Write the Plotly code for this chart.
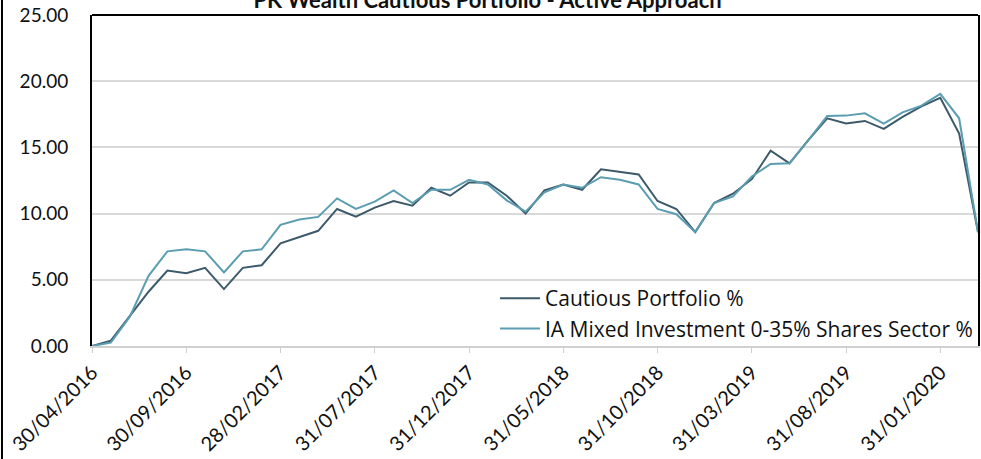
import plotly.graph_objects as go

dates = [
    "30/04/2016", "31/05/2016", "30/06/2016", "31/07/2016", "31/08/2016", "30/09/2016",
    "31/10/2016", "30/11/2016", "31/12/2016", "31/01/2017", "28/02/2017", "31/03/2017",
    "30/04/2017", "31/05/2017", "30/06/2017", "31/07/2017", "31/08/2017", "30/09/2017",
    "31/10/2017", "30/11/2017", "31/12/2017", "31/01/2018", "28/02/2018", "31/03/2018",
    "30/04/2018", "31/05/2018", "30/06/2018", "31/07/2018", "31/08/2018", "30/09/2018",
    "31/10/2018", "30/11/2018", "31/12/2018", "31/01/2019", "28/02/2019", "31/03/2019",
    "30/04/2019", "31/05/2019", "30/06/2019", "31/07/2019", "31/08/2019", "30/09/2019",
    "31/10/2019", "30/11/2019", "31/12/2019", "31/01/2020", "29/02/2020", "31/03/2020",
]

cautious = [
    0.00, 0.40, 2.25, 4.10, 5.70, 5.50, 5.90, 4.30, 5.90, 6.10, 7.75, 8.20,
    8.70, 10.35, 9.77, 10.45, 10.95, 10.60, 11.95, 11.35, 12.35, 12.35, 11.35, 10.00,
    11.75, 12.20, 11.80, 13.35, 13.15, 12.95, 10.95, 10.35, 8.60, 10.80, 11.50, 12.60,
    14.75, 13.80, 15.55, 17.20, 16.80, 17.00, 16.40, 17.30, 18.10, 18.75, 16.05, 8.60,
]

ia_sector = [
    0.00, 0.25, 2.20, 5.30, 7.15, 7.30, 7.15, 5.55, 7.15, 7.30, 9.15, 9.55,
    9.75, 11.15, 10.35, 10.90, 11.75, 10.80, 11.80, 11.80, 12.55, 12.20, 11.00, 10.15,
    11.60, 12.20, 11.95, 12.75, 12.55, 12.20, 10.35, 9.95, 8.60, 10.80, 11.30, 12.80,
    13.75, 13.80, 15.55, 17.37, 17.40, 17.57, 16.80, 17.65, 18.15, 19.05, 17.20, 8.60,
]

tick_labels = [dates[i] for i in range(0, len(dates), 5)]
y_ticks = [0, 5, 10, 15, 20, 25]

FONT = "Lato"

fig = go.Figure()
fig.add_trace(go.Scatter(
    x=dates, y=cautious, mode="lines", name="Cautious Portfolio %",
    line=dict(color="#3d5a6a", width=2),
))
fig.add_trace(go.Scatter(
    x=dates, y=ia_sector, mode="lines", name="IA Mixed Investment 0-35% Shares Sector %",
    line=dict(color="#5b9db1", width=2),
))

fig.update_layout(
    width=981, height=459,
    margin=dict(l=92, r=3, t=15, b=113, autoexpand=False),
    paper_bgcolor="white", plot_bgcolor="white",
    font=dict(family=FONT, color="#111111", size=18),
    title=dict(
        text="<b>PK Wealth Cautious Portfolio - Active Approach</b>",
        x=0.497, xanchor="center", y=1.0, yanchor="middle",
        font=dict(family=FONT, size=22, color="#111111"),
    ),
    showlegend=True,
    legend=dict(
        x=1.0, xanchor="right", y=0.205, yanchor="top",
        bgcolor="rgba(255,255,255,0)", font=dict(family="Open Sans", size=21),
        tracegroupgap=0, itemwidth=40,
    ),
    xaxis=dict(
        type="category", categoryorder="array", categoryarray=dates,
        range=[0, len(dates) - 1], automargin=False,
        tickmode="array", tickvals=tick_labels, ticktext=tick_labels,
        tickangle=-45, ticks="outside", ticklen=5, tickcolor="#d0d0d0",
        showline=True, linecolor="#d0d0d0", linewidth=2,
        showgrid=False, zeroline=False,
        tickfont=dict(family=FONT, size=20),
    ),
    yaxis=dict(
        range=[0, 25], tickmode="array", tickvals=y_ticks, tickformat=".2f",
        automargin=False, ticklabelstandoff=18,
        showgrid=True, gridcolor="#d9d9d9", gridwidth=1.5,
        showline=True, linecolor="#000000", linewidth=2, mirror=True,
        zeroline=False, ticks="", tickfont=dict(family=FONT, size=19),
    ),
    shapes=[
        dict(type="line", xref="paper", yref="paper", x0=0, x1=1, y0=1, y1=1,
             line=dict(color="#000000", width=2)),
        dict(type="line", xref="paper", yref="paper", x0=-0.1016, x1=-0.1016, y0=-0.45, y1=1.1,
             line=dict(color="#000000", width=2)),
    ],
)

fig.write_html("out.html", config={"displayModeBar": False},
               post_script="document.body.style.margin='0';")
